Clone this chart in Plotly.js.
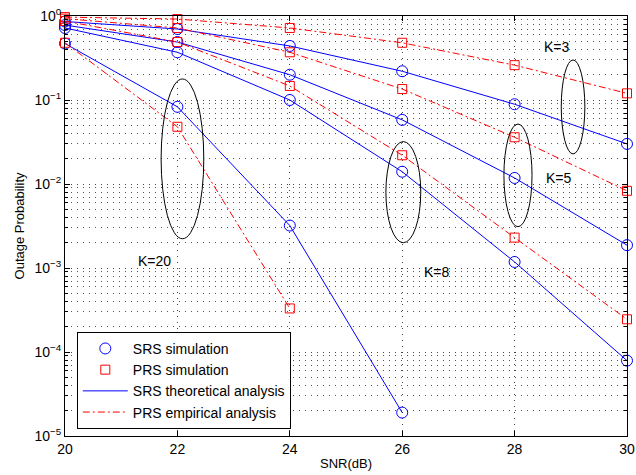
<!DOCTYPE html>
<html><head><meta charset="utf-8">
<script src="https://cdn.plot.ly/plotly-3.0.1.min.js"></script>
<style>html,body{margin:0;padding:0;background:#fff}#chart{width:636px;height:475px}</style>
</head><body><div id="chart"></div>
<script>
const snr = [20, 22, 24, 26, 28, 30];
const srsK3 = [0.86, 0.70, 0.44, 0.22, 0.089, 0.030];
const srsK5 = [0.78, 0.49, 0.20, 0.058, 0.0118, 0.00187];
const srsK8 = [0.72, 0.37, 0.10, 0.014, 0.00118, 0.000079];
const srsK20 = [0.47, 0.083, 0.0032, 0.000019];
const prsK3 = [0.97, 0.92, 0.72, 0.48, 0.26, 0.12];
const prsK5 = [0.93, 0.72, 0.37, 0.135, 0.036, 0.0083];
const prsK8 = [0.87, 0.49, 0.147, 0.022, 0.0023, 0.000245];
const prsK20 = [0.48, 0.048, 0.00033];

const yTickVals = [1e-5, 1e-4, 1e-3, 1e-2, 1e-1, 1];
const yTickText = ['10<sup>−5</sup>', '10<sup>−4</sup>', '10<sup>−3</sup>', '10<sup>−2</sup>', '10<sup>−1</sup>', '10<sup>0</sup>'];
const xTickVals = [20, 22, 24, 26, 28, 30];

// group ellipses (x0, x1, y0, y1) and labels
const ellX0 = [21.71, 25.71, 27.81, 28.83];
const ellX1 = [22.47, 26.33, 28.31, 29.25];
const ellY0 = [0.178, 0.032, 0.0518, 0.30];
const ellY1 = [0.00223, 0.0020, 0.0031, 0.0228];
const labelText = ['K=20', 'K=8', 'K=5', 'K=3'];
const labelX = [21.60, 26.62, 28.79, 28.75];
const labelLogY = [-2.92, -3.05, -1.93, -0.37];

const srsSets = [srsK3, srsK5, srsK8, srsK20];
const prsSets = [prsK3, prsK5, prsK8, prsK20];

const blue = '#0000ff', red = '#ff0000';
const traces = [];
srsSets.forEach((s, i) => traces.push({
  x: snr.slice(0, s.length), y: s, mode: 'markers', type: 'scatter', cliponaxis: false,
  name: 'SRS simulation', showlegend: i === 0, legendgroup: 'a', legendrank: 1,
  marker: {symbol: 'circle-open', size: 11, color: blue, line: {width: 1, color: blue}}
}));
prsSets.forEach((s, i) => traces.push({
  x: snr.slice(0, s.length), y: s, mode: 'markers', type: 'scatter', cliponaxis: false,
  name: 'PRS simulation', showlegend: i === 0, legendgroup: 'b', legendrank: 2,
  marker: {symbol: 'square-open', size: 9, color: red, line: {width: 1, color: red}}
}));
srsSets.forEach((s, i) => traces.push({
  x: snr.slice(0, s.length), y: s, mode: 'lines', type: 'scatter',
  name: 'SRS theoretical analysis', showlegend: i === 0, legendgroup: 'c', legendrank: 3,
  line: {color: blue, width: 1}
}));
prsSets.forEach((s, i) => traces.push({
  x: snr.slice(0, s.length), y: s, mode: 'lines', type: 'scatter',
  name: 'PRS empirical analysis', showlegend: i === 0, legendgroup: 'd', legendrank: 4,
  line: {color: red, width: 1, dash: '7px,3px,2px,3px'}
}));

const shapes = ellX0.map((x0, i) => ({
  type: 'circle', xref: 'x', yref: 'y', x0: x0, x1: ellX1[i], y0: ellY0[i], y1: ellY1[i],
  line: {color: '#000', width: 1}
}));
const annotations = labelText.map((t, i) => ({
  x: labelX[i], y: labelLogY[i], xref: 'x', yref: 'y', text: t, showarrow: false,
  font: {size: 14, color: '#000'}
}));

const font = {family: 'Liberation Sans, Arial, sans-serif', size: 13, color: '#000'};
const gridDash = '1px,5px';
const layout = {
  width: 636, height: 475,
  margin: {l: 65, r: 9, t: 16, b: 39},
  paper_bgcolor: '#fff', plot_bgcolor: '#fff',
  font: font,
  showlegend: true,
  legend: {x: 0.021, y: 0.017, xanchor: 'left', yanchor: 'bottom',
    bgcolor: '#fff', bordercolor: '#000', borderwidth: 1, itemwidth: 45,
    font: {family: font.family, size: 14, color: '#000'}, tracegroupgap: 0, traceorder: 'normal'},
  xaxis: {
    range: [20, 30], tickvals: xTickVals, ticks: 'inside', ticklen: 5, tickcolor: '#000',
    showline: true, linecolor: '#000', linewidth: 1, mirror: 'ticks',
    showgrid: true, gridcolor: '#444', griddash: gridDash, gridwidth: 1, zeroline: false,
    title: {text: 'SNR(dB)', font: {size: 13}, standoff: 3},
    tickfont: {size: 14}
  },
  yaxis: {
    type: 'log', range: [-5, 0], tickvals: yTickVals, ticktext: yTickText,
    ticks: 'inside', ticklen: 5, tickcolor: '#000',
    showline: true, linecolor: '#000', linewidth: 1, mirror: 'ticks',
    showgrid: true, gridcolor: '#444', griddash: gridDash, gridwidth: 1, zeroline: false,
    minor: {dtick: 'D1', ticks: 'inside', ticklen: 3, tickcolor: '#000', showgrid: true, gridcolor: '#555', griddash: gridDash, gridwidth: 1},
    title: {text: 'Outage Probability', font: {size: 13}, standoff: 6},
    tickfont: {size: 14}
  },
  shapes: shapes,
  annotations: annotations
};
Plotly.newPlot('chart', traces, layout, {staticPlot: true, displayModeBar: false});
</script></body></html>
